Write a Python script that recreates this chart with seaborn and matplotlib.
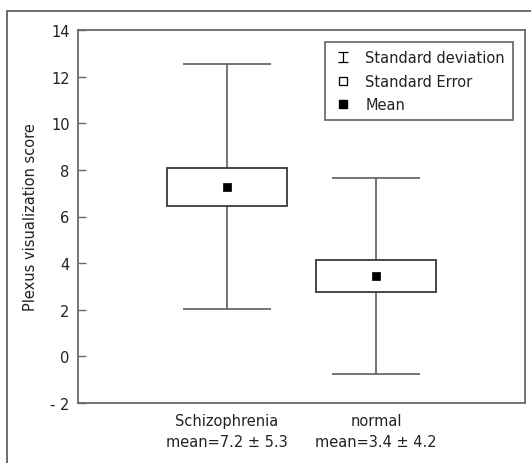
import numpy as np
import matplotlib
matplotlib.use("Agg")
import matplotlib.pyplot as plt
from matplotlib.lines import Line2D
from matplotlib.path import Path
from matplotlib.patches import Rectangle
import seaborn as sns

# values
groups = ["Schizophrenia", "normal"]
means = [7.27, 3.45]
se = [0.83, 0.67]
sd = [5.25, 4.22]
label_means = ["7.2", "3.4"]
label_sds = ["5.3", "4.2"]
yticks = [-2, 0, 2, 4, 6, 8, 10, 12, 14]
ytick_labels = ["- 2", "0", "2", "4", "6", "8", "10", "12", "14"]

sns.set_style("ticks")
plt.rcParams["font.family"] = ["DejaVu Sans"]
plt.rcParams["text.color"] = "#222222"
plt.rcParams["axes.labelcolor"] = "#222222"
plt.rcParams["xtick.color"] = "#222222"
plt.rcParams["ytick.color"] = "#222222"

edge = "#3a3a3a"
whisk = "#6a6a6a"
fs = 10.5

fig = plt.figure(figsize=(5.31, 4.64), dpi=100)
ax = fig.add_axes([0.1469, 0.1293, 0.9887 - 0.1469, 0.9332 - 0.1293])

x = np.arange(len(groups))
means = np.array(means)
se = np.array(se)
sd = np.array(sd)

# SD whiskers
ax.errorbar(x, means, yerr=sd, fmt="none", ecolor=whisk, elinewidth=1.3,
            capsize=32, capthick=1.3, zorder=1)
# SE boxes
ax.bar(x, 2 * se, bottom=means - se, width=0.8, color="white",
       edgecolor=edge, linewidth=1.3, zorder=2)
# means
sns.scatterplot(x=x, y=means, marker="s", color="black", s=40,
                edgecolor="black", ax=ax, zorder=3, legend=False)

ax.set_xlim(-1.0, 2.0)
ax.set_ylim(-2, 14)
ax.set_yticks(yticks)
ax.set_yticklabels(ytick_labels, fontsize=fs)
ax.set_xticks(x)
ax.set_xticklabels([f"{g}\nmean={m} \u00b1 {s}"
                    for g, m, s in zip(groups, label_means, label_sds)],
                   fontsize=fs, linespacing=1.55)
ax.tick_params(axis="x", length=0, pad=7)
ax.tick_params(axis="y", direction="in", length=6, width=1, color=whisk, pad=6)
ax.set_ylabel("Plexus visualization score", fontsize=fs, labelpad=9)

for sp in ax.spines.values():
    sp.set_visible(True)
    sp.set_color(whisk)
    sp.set_linewidth(1.3)

# legend with custom markers
sd_marker = Path([(-0.6, 0.6), (0.6, 0.6), (0, 0.6), (0, -0.6), (-0.6, -0.6), (0.6, -0.6)],
                 [Path.MOVETO, Path.LINETO, Path.MOVETO, Path.LINETO, Path.MOVETO, Path.LINETO])
handles = [
    Line2D([], [], linestyle="none", marker=sd_marker, markersize=6.5,
           markeredgecolor="black", markerfacecolor="none", markeredgewidth=0.9),
    Line2D([], [], linestyle="none", marker="s", markersize=5.5,
           markeredgecolor="black", markerfacecolor="white", markeredgewidth=0.9),
    Line2D([], [], linestyle="none", marker="s", markersize=5.5,
           markeredgecolor="black", markerfacecolor="black"),
]
leg = ax.legend(handles, ["Standard deviation", "Standard Error", "Mean"],
                loc="upper right", bbox_to_anchor=(0.973, 0.968), fontsize=fs,
                frameon=True, fancybox=False, handlelength=1.4, handletextpad=0.8,
                borderpad=0.55, labelspacing=0.6, borderaxespad=0)
leg.get_frame().set_edgecolor(edge)
leg.get_frame().set_linewidth(1.2)

# outer frame around the figure
fig.patches.append(Rectangle((7 / 531, -0.1), 1.2, 0.1 + 1 - 12 / 464,
                             transform=fig.transFigure, fill=False,
                             edgecolor="#555555", linewidth=1.2))

fig.savefig("out.png", dpi=100)
